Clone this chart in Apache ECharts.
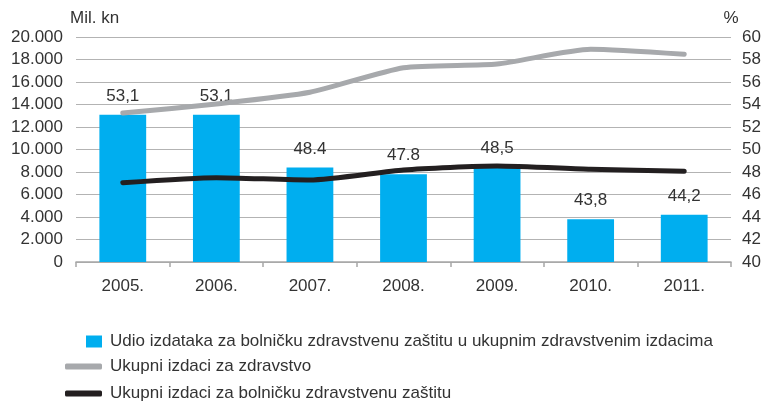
<!DOCTYPE html>
<html>
<head>
<meta charset="utf-8">
<script src="https://cdn.jsdelivr.net/npm/echarts@6/dist/echarts.min.js"></script>
<style>
  html, body { margin: 0; padding: 0; background: #fff; }
  #chart { width: 765px; height: 403px; }
</style>
</head>
<body>
<div id="chart"></div>
<script>
// Godine
const years = ['2005.', '2006.', '2007.', '2008.', '2009.', '2010.', '2011.'];
// Udio izdataka za bolničku zaštitu (%), desna os
const hospitalShare = [53.1, 53.1, 48.4, 47.8, 48.5, 43.8, 44.2];
const hospitalShareLabels = ['53,1', '53.1', '48.4', '47.8', '48,5', '43,8', '44,2'];
// Ukupni izdaci za zdravstvo (mil. kn), lijeva os
const totalHealth = [13240, 14050, 15090, 17270, 17600, 18910, 18460];
// Ukupni izdaci za bolničku zdravstvenu zaštitu (mil. kn), lijeva os
const totalHospital = [7050, 7500, 7290, 8180, 8530, 8240, 8060];

const NAME_SHARE = 'Udio izdataka za bolničku zdravstvenu zaštitu u ukupnim zdravstvenim izdacima';
const NAME_TOTAL = 'Ukupni izdaci za zdravstvo';
const NAME_HOSP = 'Ukupni izdaci za bolničku zdravstvenu zaštitu';

const FONT = '"Liberation Sans", Arial, sans-serif';
const FS = 17;
const TXT = '#333333';
const GRID = '#b3b3b3';

const chart = echarts.init(document.getElementById('chart'));

const fmtThousands = v => v === 0 ? '0' : String(v).replace(/\B(?=(\d{3})+(?!\d))/g, '.');

const legendText = { fontFamily: FONT, fontSize: FS, color: TXT, padding: [0, 0, 0, 3] };

chart.setOption({
  animation: false,
  textStyle: { fontFamily: FONT, color: TXT },
  grid: { left: 76, right: 34, top: 37, height: 225, containLabel: false },
  legend: [
    {
      data: [{ name: NAME_SHARE, icon: 'rect' }],
      left: 86, top: 333, padding: 0,
      itemWidth: 16, itemHeight: 12,
      textStyle: legendText
    },
    {
      data: [{ name: NAME_TOTAL, icon: 'roundRect' }],
      left: 65, top: 358, padding: 0,
      itemWidth: 37, itemHeight: 6,
      textStyle: legendText
    },
    {
      data: [{ name: NAME_HOSP, icon: 'roundRect' }],
      left: 65, top: 385, padding: 0,
      itemWidth: 37, itemHeight: 6,
      textStyle: legendText
    }
  ],
  xAxis: {
    type: 'category',
    data: years,
    axisLine: { lineStyle: { color: '#a6a6a6', width: 1.5 } },
    axisTick: { show: true, length: 5, lineStyle: { color: '#a6a6a6', width: 1.5 } },
    axisLabel: { fontSize: FS, color: TXT, margin: 16, fontFamily: FONT }
  },
  yAxis: [
    {
      type: 'value', min: 0, max: 20000, interval: 2000,
      name: 'Mil. kn', nameLocation: 'end', nameGap: 10,
      nameTextStyle: { fontSize: FS, color: TXT, align: 'left', padding: [0, 0, 0, -6], fontFamily: FONT },
      axisLine: { show: false }, axisTick: { show: false },
      axisLabel: { fontSize: FS, color: TXT, margin: 13, formatter: fmtThousands, fontFamily: FONT },
      splitLine: { lineStyle: { color: GRID, width: 1.2 } }
    },
    {
      type: 'value', min: 40, max: 60, interval: 2, position: 'right',
      name: '%', nameLocation: 'end', nameGap: 10,
      nameTextStyle: { fontSize: FS, color: TXT, align: 'center', fontFamily: FONT },
      axisLine: { show: false }, axisTick: { show: false },
      axisLabel: { fontSize: FS, color: TXT, margin: 11, fontFamily: FONT },
      splitLine: { show: false }
    }
  ],
  series: [
    {
      name: NAME_SHARE,
      type: 'bar', yAxisIndex: 1,
      data: hospitalShare,
      barWidth: '50%',
      itemStyle: { color: '#00AEEF' },
      label: {
        show: true, position: 'top', distance: 10,
        fontSize: FS, color: TXT, fontFamily: FONT,
        formatter: p => hospitalShareLabels[p.dataIndex]
      },
      z: 1
    },
    {
      name: NAME_TOTAL,
      type: 'line', yAxisIndex: 0,
      data: totalHealth,
      symbol: 'none', smooth: 0.2,
      lineStyle: { color: '#A7A9AC', width: 5, cap: 'round', join: 'round' },
      itemStyle: { color: '#A7A9AC' },
      z: 3
    },
    {
      name: NAME_HOSP,
      type: 'line', yAxisIndex: 0,
      data: totalHospital,
      symbol: 'none', smooth: 0.2,
      lineStyle: { color: '#231F20', width: 5, cap: 'round', join: 'round' },
      itemStyle: { color: '#231F20' },
      z: 4
    }
  ]
});
</script>
</body>
</html>
